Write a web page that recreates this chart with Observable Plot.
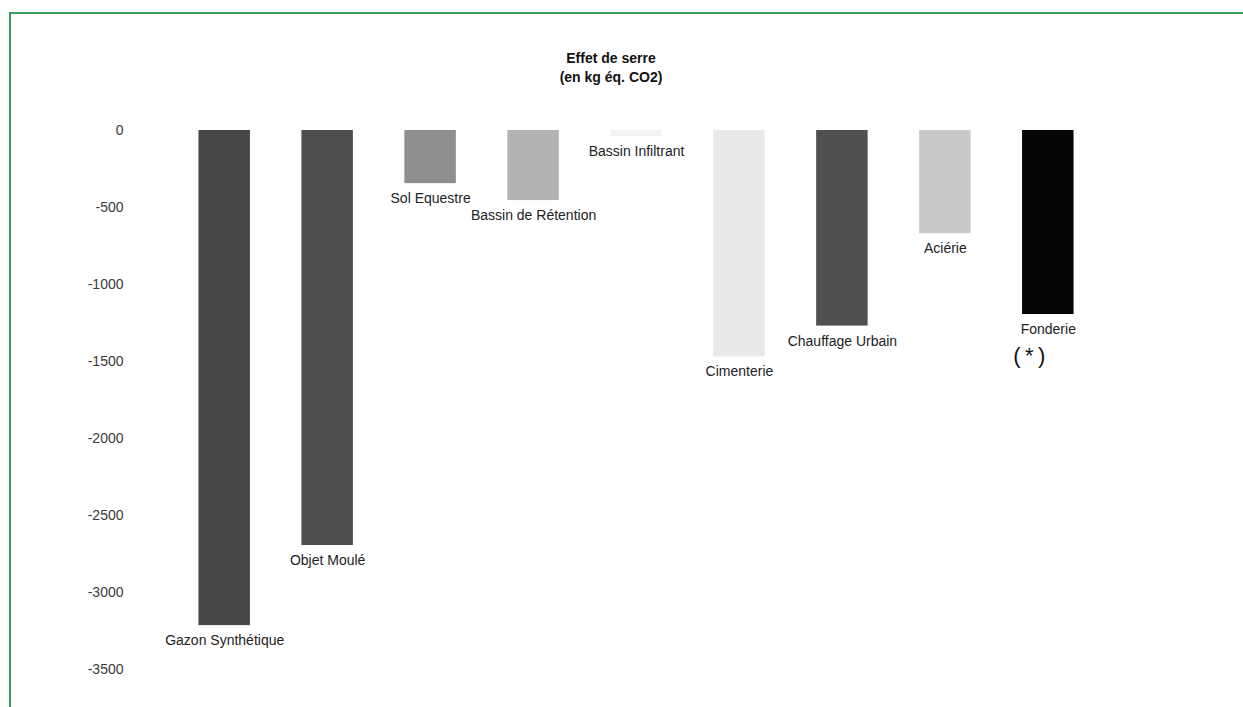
<!DOCTYPE html>
<html>
<head>
<meta charset="utf-8">
<script src="https://cdn.jsdelivr.net/npm/d3@7"></script>
<script src="https://cdn.jsdelivr.net/npm/@observablehq/plot@0.6"></script>
<style>
  html, body { margin: 0; padding: 0; background: #fff; }
  #wrap { position: relative; width: 1243px; height: 707px; overflow: hidden; font-family: "Liberation Sans", Arial, Helvetica, sans-serif; }
  #chart { position: absolute; left: 0; top: 0; }
  #title { position: absolute; left: 461px; width: 300px; top: 49px; text-align: center; font-weight: bold; font-size: 14px; line-height: 19px; color: #111; }
  #frame { position: absolute; left: 9px; top: 12px; width: 1300px; height: 800px; border-left: 2px solid #3f9a63; border-top: 2px solid #3f9a63; pointer-events: none; }
</style>
</head>
<body>
<div id="wrap">
  <div id="chart"></div>
  <div id="title">Effet de serre<br>(en kg éq. CO2)</div>
  <div id="frame"></div>
</div>
<script>
// Data
const categories = ["Gazon Synthétique", "Objet Moulé", "Sol Equestre", "Bassin de Rétention", "Bassin Infiltrant", "Cimenterie", "Chauffage Urbain", "Aciérie", "Fonderie"];
const values = [-3215, -2695, -345, -455, -40, -1470, -1270, -670, -1195];
const yTicks = [0, -500, -1000, -1500, -2000, -2500, -3000, -3500];
const notes = [{cat: "Fonderie", text: "(\u2009*\u2009)"}];

// Styles
const barColors = ["#474747", "#4d4d4d", "#8e8e8e", "#b3b3b3", "#f3f3f3", "#e9e9e9", "#505050", "#c9c9c9", "#050505"];

const data = categories.map((c, i) => ({cat: c, val: values[i]}));
const noteData = notes.map(n => ({...n, val: values[categories.indexOf(n.cat)]}));

const plot = Plot.plot({
  width: 1243,
  height: 707,
  marginTop: 130,
  marginBottom: 38,
  marginLeft: 147,
  marginRight: 118,
  style: {background: "transparent", fontFamily: "'Liberation Sans', Arial, Helvetica, sans-serif", fontSize: "14px", color: "#3a3a3a"},
  x: {domain: categories, padding: 0.5, round: false, axis: null},
  y: {domain: [-3500, 0], ticks: yTicks, tickSize: 0, tickPadding: 24, tickFormat: d => String(d), label: null},
  color: {domain: categories, range: barColors},
  marks: [
    Plot.barY(data, {x: "cat", y: "val", fill: "cat"}),
    Plot.text(data, {x: "cat", y: "val", text: "cat", dy: 15, fontSize: 14, fill: "#222"}),
    Plot.text(noteData, {x: "cat", y: "val", text: "text", dy: 41, dx: -19, fontSize: 22, fill: "#111"})
  ]
});
document.getElementById("chart").appendChild(plot);
</script>
</body>
</html>
